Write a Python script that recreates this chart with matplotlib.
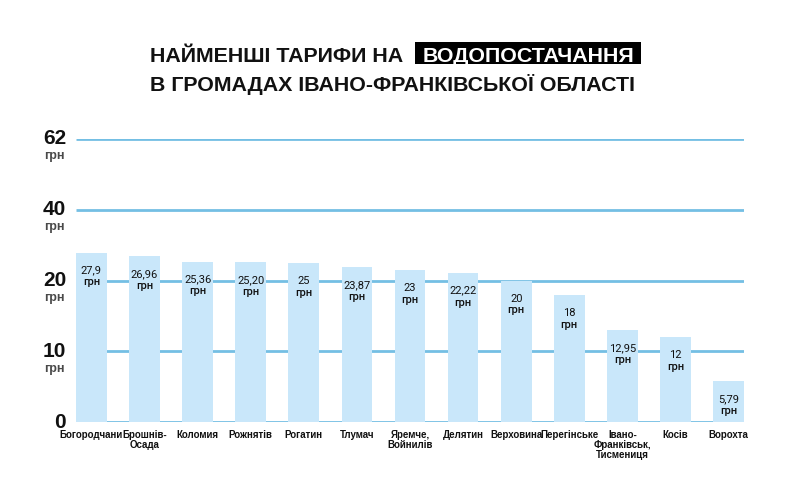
import numpy as np
import matplotlib
matplotlib.use("Agg")
import matplotlib.pyplot as plt
from matplotlib import transforms
from matplotlib.patches import Rectangle

# ---- data ----
categories = ["Богородчани", "Брошнів-\nОсада", "Коломия", "Рожнятів", "Рогатин", "Тлумач",
              "Яремче,\nВойнилів", "Делятин", "Верховина", "Перегінське",
              "Івано-\nФранківськ,\nТисмениця", "Косів", "Ворохта"]
values = [27.9, 26.96, 25.36, 25.20, 25, 23.87, 23, 22.22, 20, 18, 12.95, 12, 5.79]
value_labels = ["27,9", "26,96", "25,36", "25,20", "25", "23,87", "23", "22,22", "20", "18",
                "12,95", "12", "5,79"]
ytick_values = [0, 10, 20, 40, 62]
ytick_labels = ["0", "10", "20", "40", "62"]
unit = "грн"
title_line1 = "НАЙМЕНШІ ТАРИФИ НА"
title_highlight = "ВОДОПОСТАЧАННЯ"
title_line2 = "В ГРОМАДАХ ІВАНО-ФРАНКІВСЬКОЇ ОБЛАСТІ"

BAR = "#c9e7fa"
GRID = "#74bfe4"
DARK = "#111111"
GREY = "#4a4a4a"

W, H = 794, 496
fig = plt.figure(figsize=(W / 100, H / 100), dpi=100)
fig.patch.set_facecolor("white")

left_px, right_px, top_px, bot_px = 76, 744, 139, 422
ax = fig.add_axes([left_px / W, 1 - bot_px / H, (right_px - left_px) / W, (bot_px - top_px) / H])

# piecewise-linear y scale: the gridlines are evenly spaced in the reference
seg_x = np.array(ytick_values, dtype=float)
seg_y = np.arange(len(ytick_values), dtype=float)
fwd = lambda v: np.interp(v, seg_x, seg_y)
inv = lambda v: np.interp(v, seg_y, seg_x)
ax.set_yscale("function", functions=(fwd, inv))
ax.set_ylim(0, 62)

x = np.arange(len(categories))
ax.set_xlim(-0.29, len(categories) - 1 + 0.29)

for v in ytick_values:
    ax.axhline(v, color=GRID, lw=2.0, zorder=1, solid_capstyle="butt")

ax.bar(x, values, width=0.58, color=BAR, zorder=2)

for s in ax.spines.values():
    s.set_visible(False)
ax.set_yticks([])
ax.set_xticks(x)
ax.set_xticklabels(categories, fontsize=7.0, fontweight="bold", color=DARK,
                   family=["Liberation Sans", "DejaVu Sans"], linespacing=0.95)
ax.tick_params(axis="x", length=0, pad=6)
ax.set_facecolor("none")

# value labels inside bars
for xi, v, lab in zip(x, values, value_labels):
    ax.annotate(lab, (xi, v), xytext=(0, -13), textcoords="offset points",
                ha="center", va="center", fontsize=8, color=DARK,
                family=["Roboto", "DejaVu Sans"], zorder=3)
    ax.annotate(unit, (xi, v), xytext=(0, -21.5), textcoords="offset points",
                ha="center", va="center", fontsize=8, color=DARK, fontweight="medium",
                family=["Roboto", "DejaVu Sans"], zorder=3)

# y tick labels (number + unit)
ytr = transforms.blended_transform_factory(ax.transAxes, ax.transData)
for v, lab in zip(ytick_values, ytick_labels):
    ax.annotate(lab, (0, v), xycoords=ytr, xytext=(-7.2, 0), textcoords="offset points",
                ha="right", va="center", fontsize=15, fontweight="bold", color=DARK,
                family=["Liberation Sans", "DejaVu Sans"], annotation_clip=False)
    if v != 0:
        ax.annotate(unit, (0, v), xycoords=ytr, xytext=(-8.5, -12.5), textcoords="offset points",
                    ha="right", va="center", fontsize=9, fontweight="bold", color=GREY,
                    family=["Liberation Sans", "DejaVu Sans"], annotation_clip=False)

# title
tfam = ["Liberation Sans", "DejaVu Sans"]
TFS = 15.4
t1 = fig.text(150 / W, 1 - 54 / H, title_line1, ha="left", va="center_baseline", fontsize=TFS,
              fontweight="bold", color=DARK, family=tfam)
fig.canvas.draw()
r = fig.canvas.get_renderer()
bb1 = t1.get_window_extent(r)
hx = bb1.x1 + 19
t2 = fig.text(hx / W, 1 - 54 / H, title_highlight, ha="left", va="center_baseline", fontsize=TFS,
              fontweight="bold", color="white", family=tfam, zorder=5)
fig.canvas.draw()
bb2 = t2.get_window_extent(r)
fig.patches.append(Rectangle(((bb2.x0 - 7) / W, 1 - 64 / H), (bb2.x1 - bb2.x0 + 14) / W, 22.3 / H,
                             transform=fig.transFigure, fc="black", ec="none", zorder=4))
fig.text(150 / W, 1 - 82.5 / H, title_line2, ha="left", va="center_baseline", fontsize=TFS,
         fontweight="bold", color=DARK, family=tfam)

fig.savefig("out.png", dpi=100, facecolor="white")
